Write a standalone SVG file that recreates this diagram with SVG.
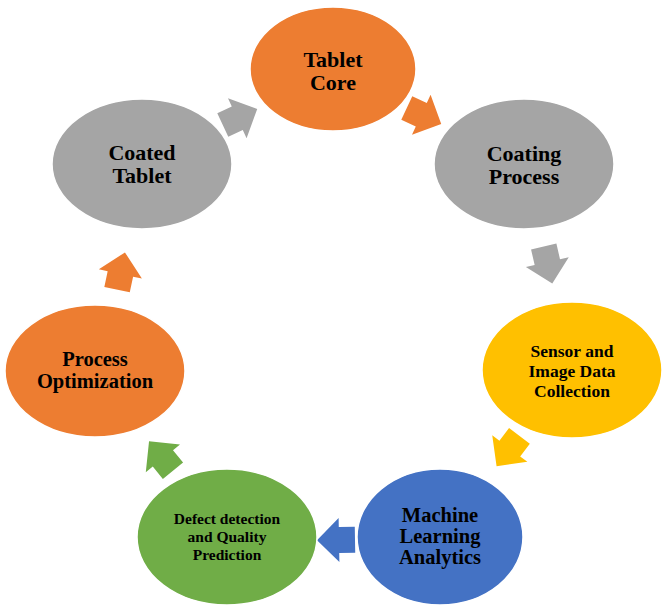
<svg xmlns="http://www.w3.org/2000/svg" width="668" height="610" viewBox="0 0 668 610">
<style>
.t{font-family:"Liberation Serif","Times New Roman",serif;font-weight:bold;fill:#000;text-anchor:middle}
.n{stroke:#fff;stroke-width:1.5}
</style>
<defs>
<path id="arr" d="M-19,-13 L-3,-13 L-3,-22 L19,0 L-3,22 L-3,13 L-19,13 Z"/>
</defs>
<rect width="668" height="610" fill="#fff"/>
<g id="connectors">
<use href="#arr" fill="#A5A5A5" transform="translate(240,117) rotate(-25)"/>
<use href="#arr" fill="#ED7D31" transform="translate(424,116) rotate(25)"/>
<use href="#arr" fill="#A5A5A5" transform="translate(548,265) rotate(77)"/>
<use href="#arr" fill="#FFC000" transform="translate(508,451) rotate(127)"/>
<use href="#arr" fill="#4472C4" transform="translate(336,540) rotate(179)"/>
<use href="#arr" fill="#70AD47" transform="translate(161,456) rotate(231)"/>
<use href="#arr" fill="#ED7D31" transform="translate(121,271) rotate(-78)"/>
</g>
<g id="tablet-core">
<ellipse class="n" cx="333" cy="69" rx="83" ry="62" fill="#ED7D31"/>
<text class="t" x="333" y="67" font-size="22">Tablet</text>
<text class="t" x="333" y="90" font-size="22">Core</text>
</g>
<g id="coating-process">
<ellipse class="n" cx="524" cy="164" rx="90" ry="65" fill="#A5A5A5"/>
<text class="t" x="524" y="161" font-size="22">Coating</text>
<text class="t" x="524" y="184" font-size="22">Process</text>
</g>
<g id="sensor-data">
<ellipse class="n" cx="572" cy="370" rx="90" ry="68" fill="#FFC000"/>
<text class="t" x="572" y="357" font-size="17.5">Sensor and</text>
<text class="t" x="572" y="377" font-size="17.5">Image Data</text>
<text class="t" x="572" y="397" font-size="17.5">Collection</text>
</g>
<g id="ml-analytics">
<ellipse class="n" cx="440" cy="537" rx="83" ry="68" fill="#4472C4"/>
<text class="t" x="440" y="522" font-size="20.5">Machine</text>
<text class="t" x="440" y="543" font-size="20.5">Learning</text>
<text class="t" x="440" y="564" font-size="20.5">Analytics</text>
</g>
<g id="defect-detection">
<ellipse class="n" cx="227" cy="537" rx="90" ry="68" fill="#70AD47"/>
<text class="t" x="227" y="524" font-size="15.5">Defect detection</text>
<text class="t" x="227" y="542" font-size="15.5">and Quality</text>
<text class="t" x="227" y="560" font-size="15.5">Prediction</text>
</g>
<g id="process-optimization">
<ellipse class="n" cx="95" cy="371" rx="90" ry="66" fill="#ED7D31"/>
<text class="t" x="95" y="366" font-size="20.5">Process</text>
<text class="t" x="95" y="388" font-size="20.5">Optimization</text>
</g>
<g id="coated-tablet">
<ellipse class="n" cx="142" cy="164" rx="90" ry="65" fill="#A5A5A5"/>
<text class="t" x="142" y="160" font-size="22">Coated</text>
<text class="t" x="142" y="183" font-size="22">Tablet</text>
</g>
</svg>
